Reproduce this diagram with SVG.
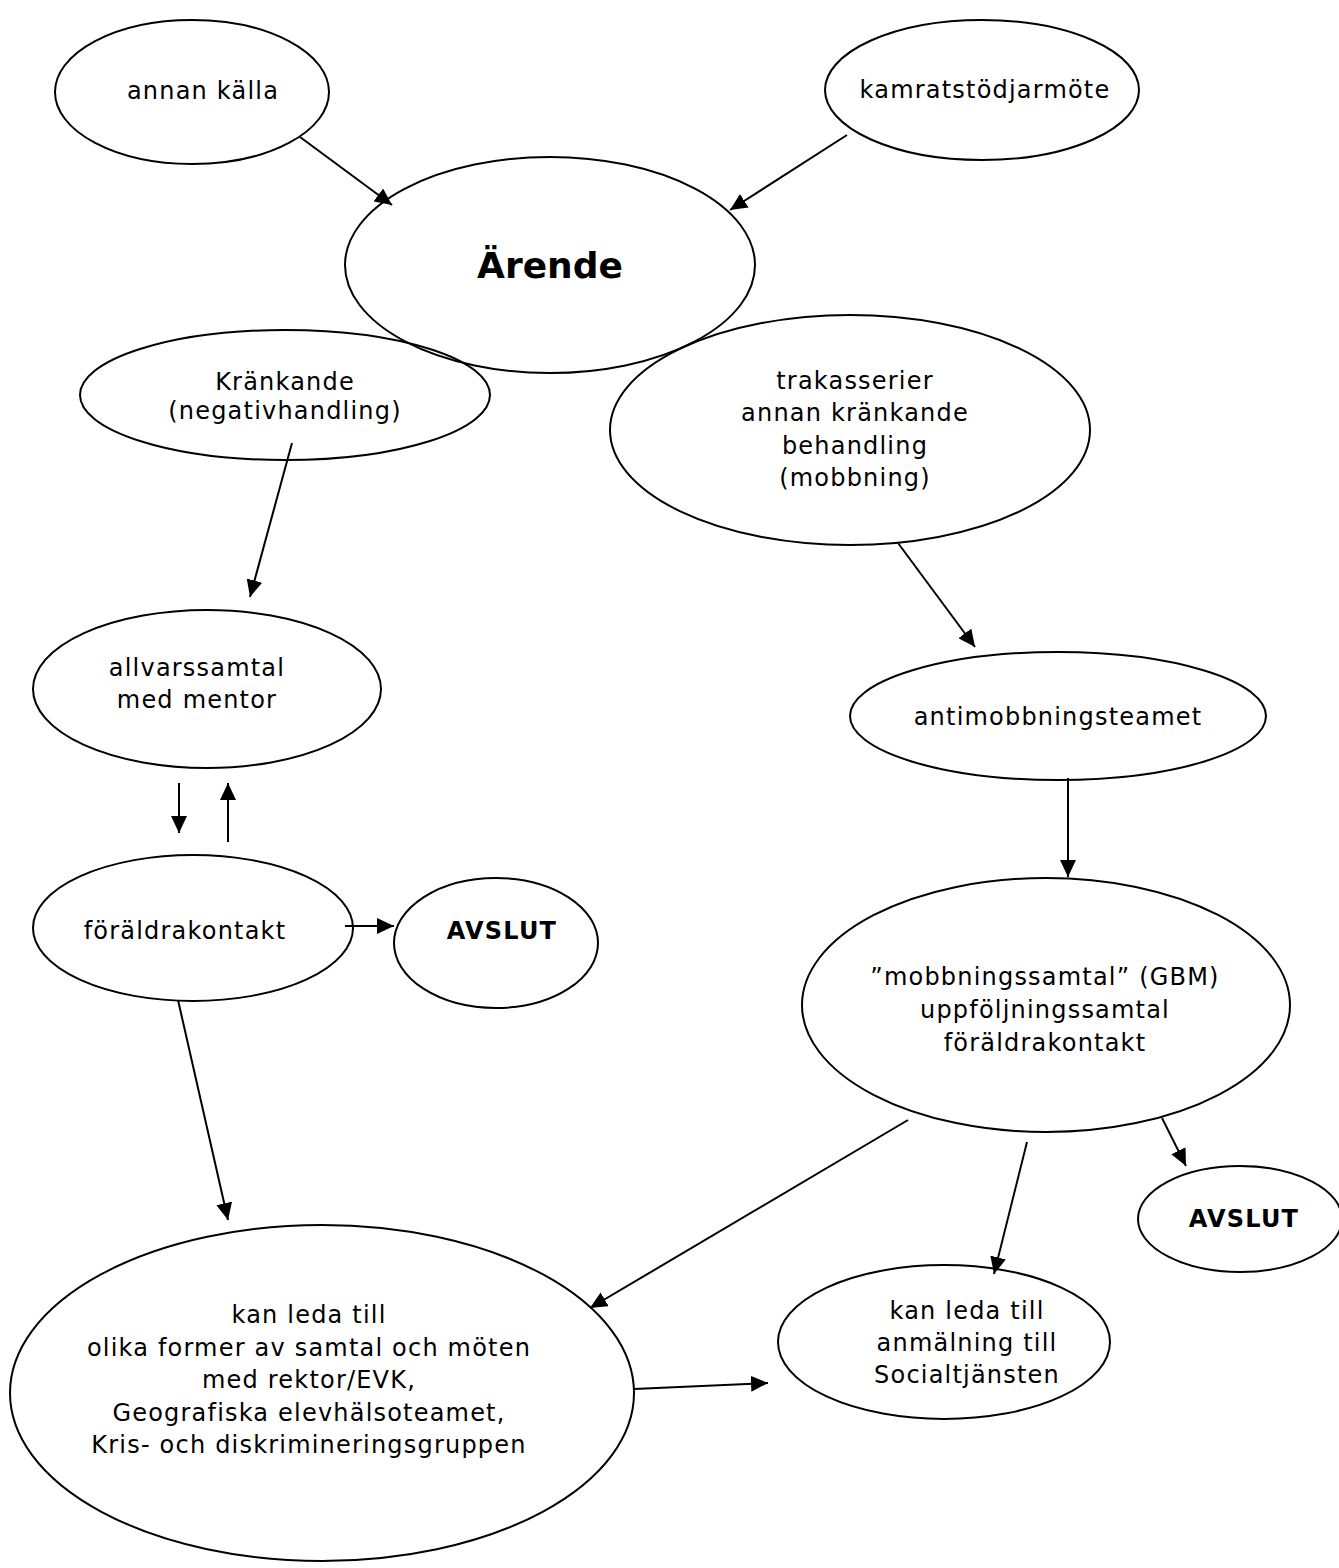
<svg xmlns="http://www.w3.org/2000/svg" width="1339" height="1568" viewBox="0 0 1339 1568">
<style>
.n ellipse{fill:none;stroke:#000;stroke-width:2}
text{font-family:"DejaVu Sans",Verdana,sans-serif;font-size:24px;letter-spacing:1.2px;text-anchor:middle;fill:#000}
.b{font-weight:bold}
.big{font-size:36px;font-weight:bold;letter-spacing:0}
#edges line{stroke:#000;stroke-width:2;marker-end:url(#ah)}
</style>
<defs>
<marker id="ah" markerUnits="userSpaceOnUse" markerWidth="18" markerHeight="16" refX="17" refY="8" orient="auto">
<path d="M0,0 L17,8 L0,16 Z" fill="#000"/>
</marker>
</defs>
<rect width="1339" height="1568" fill="#fff"/>
<g id="n1" class="n"><ellipse cx="192" cy="92" rx="137" ry="72"/><text x="203" y="99">annan källa</text></g>
<g id="n2" class="n"><ellipse cx="982" cy="90" rx="157" ry="70"/><text x="985" y="98">kamratstödjarmöte</text></g>
<g id="n3" class="n"><ellipse cx="550" cy="265" rx="205" ry="108"/><text class="big" x="550" y="278">Ärende</text></g>
<g id="n4" class="n"><ellipse cx="285" cy="395" rx="205" ry="65"/><text x="285" y="390">Kränkande</text><text x="285" y="419">(negativhandling)</text></g>
<g id="n5" class="n"><ellipse cx="850" cy="430" rx="240" ry="115"/><text x="855" y="389">trakasserier</text><text x="855" y="421">annan kränkande</text><text x="855" y="454">behandling</text><text x="855" y="486">(mobbning)</text></g>
<g id="n6" class="n"><ellipse cx="207" cy="689" rx="174" ry="79"/><text x="197" y="676">allvarssamtal</text><text x="197" y="708">med mentor</text></g>
<g id="n7" class="n"><ellipse cx="1058" cy="716" rx="208" ry="64"/><text x="1058" y="725">antimobbningsteamet</text></g>
<g id="n8" class="n"><ellipse cx="193" cy="928" rx="160" ry="73"/><text x="185" y="939">föräldrakontakt</text></g>
<g id="n9" class="n"><ellipse cx="496" cy="943" rx="102" ry="65"/><text class="b" x="502" y="939">AVSLUT</text></g>
<g id="n10" class="n"><ellipse cx="1046" cy="1005" rx="244" ry="127"/><text x="1045" y="985">”mobbningssamtal” (GBM)</text><text x="1045" y="1018">uppföljningssamtal</text><text x="1045" y="1051">föräldrakontakt</text></g>
<g id="n11" class="n"><ellipse cx="1240" cy="1219" rx="102" ry="53"/><text class="b" x="1244" y="1227">AVSLUT</text></g>
<g id="n12" class="n"><ellipse cx="322" cy="1393" rx="312" ry="168"/><text x="309" y="1323">kan leda till</text><text x="309" y="1356">olika former av samtal och möten</text><text x="309" y="1388">med rektor/EVK,</text><text x="309" y="1421">Geografiska elevhälsoteamet,</text><text x="309" y="1453">Kris- och diskrimineringsgruppen</text></g>
<g id="n13" class="n"><ellipse cx="944" cy="1342" rx="166" ry="77"/><text x="967" y="1319">kan leda till</text><text x="967" y="1351">anmälning till</text><text x="967" y="1383">Socialtjänsten</text></g>
<g id="edges">
<line x1="300" y1="137" x2="392" y2="205"/>
<line x1="847" y1="135" x2="730" y2="210"/>
<line x1="292" y1="443" x2="250" y2="597"/>
<line x1="898" y1="543" x2="975" y2="647"/>
<line x1="179" y1="783" x2="179" y2="833"/>
<line x1="228" y1="842" x2="228" y2="783"/>
<line x1="345" y1="926" x2="394" y2="926"/>
<line x1="178" y1="1000" x2="228" y2="1220"/>
<line x1="1068" y1="778" x2="1068" y2="877"/>
<line x1="908" y1="1120" x2="590" y2="1308"/>
<line x1="1027" y1="1142" x2="994" y2="1274"/>
<line x1="1162" y1="1118" x2="1186" y2="1166"/>
<line x1="634" y1="1389" x2="768" y2="1383"/>
</g>
</svg>
